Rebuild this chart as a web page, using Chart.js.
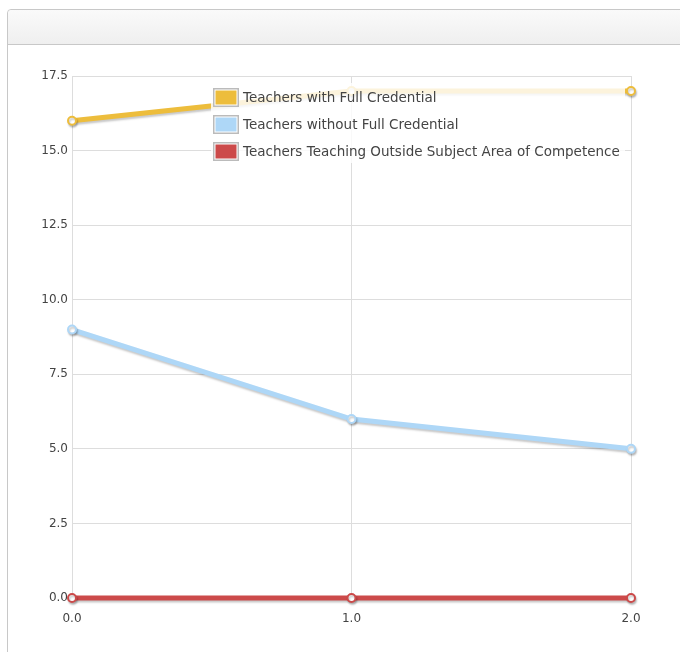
<!DOCTYPE html>
<html><head><meta charset="utf-8">
<script src="https://cdn.jsdelivr.net/npm/chart.js@4"></script>
<style>
html,body{margin:0;padding:0;background:#fff;width:680px;height:652px;overflow:hidden;font-family:"DejaVu Sans",sans-serif;}
#panel{position:absolute;left:7px;top:9px;width:700px;height:700px;border:1px solid #c8c8c8;border-radius:4px 0 0 0;background:#fff;}
#hdr{position:absolute;left:0;top:0;right:0;height:34px;background:linear-gradient(#fafafa,#efefef);border-bottom:1px solid #c8c8c8;border-radius:4px 0 0 0;}
#wrap{position:absolute;left:0;top:45px;width:680px;height:607px;}
</style></head>
<body>
<div id="panel"><div id="hdr"></div></div>
<div id="wrap"><canvas id="c" width="680" height="607"></canvas></div>
<script>
const xValues = [0, 1, 2];
const seriesLabels = ["Teachers with Full Credential","Teachers without Full Credential","Teachers Teaching Outside Subject Area of Competence"];
const fullCredential = [16, 17, 17];
const withoutCredential = [9, 6, 5];
const outsideSubject = [0, 0, 0];
const seriesColors = ["#EDBD3C","#AED7F7","#CC4A4A"];

const allSeries = [fullCredential, withoutCredential, outsideSubject];
const datasets = allSeries.map((vals,i)=>({
  label: seriesLabels[i],
  data: vals.map((v,j)=>({x:xValues[j], y:v})),
  borderColor: seriesColors[i],
  backgroundColor: "#ffffff",
  pointBackgroundColor: "#ffffff",
  pointBorderColor: seriesColors[i],
  pointBorderWidth: 2,
  pointRadius: 4,
  borderWidth: 5,
  tension: 0,
  fill: false,
  clip: false
}));

const shadowPlugin = {
  id:'shadow',
  beforeDatasetDraw(chart){const c=chart.ctx;c.save();c.shadowColor='rgba(0,0,0,0.22)';c.shadowBlur=2;c.shadowOffsetX=1;c.shadowOffsetY=2;},
  afterDatasetDraw(chart){chart.ctx.restore();}
};
const legendPlugin = {
  id:'insideLegend',
  afterDraw(chart){
    const c=chart.ctx;
    c.save();
    c.fillStyle='rgba(255,255,255,0.82)';
    c.fillRect(211,38,414,80);
    c.font='13.5px "DejaVu Sans"';
    c.textBaseline='middle';
    chart.data.datasets.forEach((ds,i)=>{
      const y=43+i*27;
      c.fillStyle='#bbbbbb';
      c.fillRect(213,y,26,19);
      c.fillStyle='#ffffff';
      c.fillRect(214.5,y+1.5,23,16);
      c.fillStyle=ds.borderColor;
      c.fillRect(215.5,y+2.5,21,14);
      c.fillStyle='#444444';
      c.fillText(ds.label,243,y+10);
    });
    c.restore();
  }
};

new Chart(document.getElementById('c'),{
  type:'line',
  data:{datasets},
  options:{
    responsive:false,animation:false,
    layout:{padding:{top:31,right:49,left:0,bottom:0}},
    plugins:{legend:{display:false},tooltip:{enabled:false}},
    scales:{
      x:{type:'linear',min:0,max:2,
        grid:{color:'#dddddd',drawTicks:false},border:{display:false},
        ticks:{stepSize:1,padding:14,color:'#444',font:{family:'DejaVu Sans',size:12},callback:v=>v.toFixed(1)},
        afterFit(s){s.height=54;}},
      y:{min:0,max:17.5,
        grid:{color:'#dddddd',drawTicks:false},border:{display:false},
        ticks:{stepSize:2.5,padding:4,color:'#444',font:{family:'DejaVu Sans',size:12},callback:v=>v.toFixed(1)},
        afterFit(s){s.width=72;}}
    }
  },
  plugins:[shadowPlugin,legendPlugin]
});
</script>
</body></html>
